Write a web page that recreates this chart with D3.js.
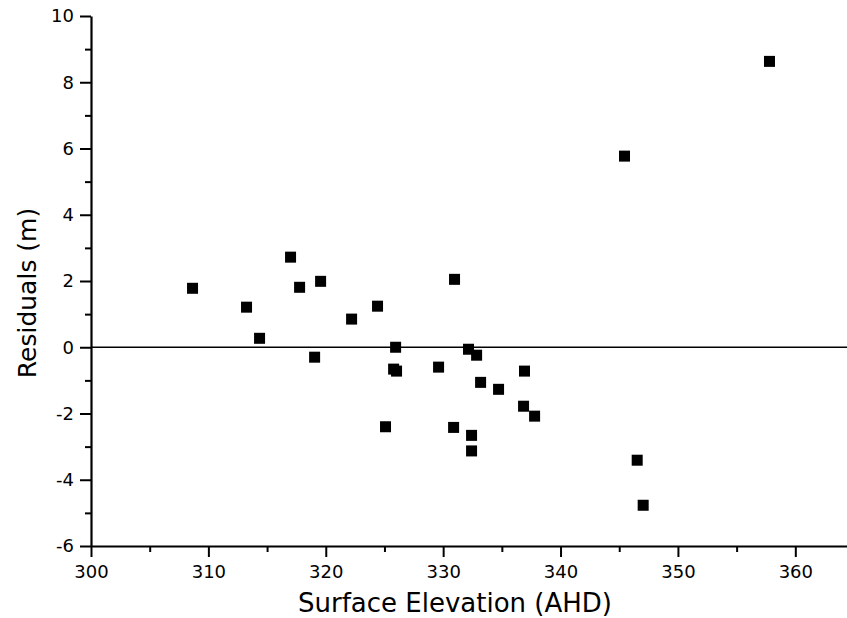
<!DOCTYPE html>
<html>
<head>
<meta charset="utf-8">
<script src="https://cdn.jsdelivr.net/npm/d3@7"></script>
<style>
  body { margin: 0; background: #fff; overflow: hidden; }
  svg { display: block; }
  text { font-family: "Century Gothic", "DejaVu Sans", sans-serif; fill: #000; }
</style>
</head>
<body>
<div id="chart"></div>
<script>
// surface elevation (AHD) of each bore
var elevation = [308.65, 313.25, 314.36, 317.0, 317.77, 319.05, 319.56, 322.2, 324.41, 325.09,
                 325.78, 325.95, 326.03, 329.61, 330.89, 330.97, 332.16, 332.42, 332.42, 332.85,
                 333.19, 334.72, 336.85, 336.93, 337.79, 345.45, 346.53, 347.04, 357.8];
// residuals (m)
var residuals = [1.78, 1.21, 0.27, 2.72, 1.81, -0.30, 1.99, 0.85, 1.24, -2.40,
                 -0.66, 0.0, -0.72, -0.60, -2.42, 2.05, -0.06, -2.66, -3.13, -0.24,
                 -1.06, -1.27, -1.78, -0.72, -2.08, 5.77, -3.41, -4.77, 8.63];

var xTicks = [300, 310, 320, 330, 340, 350, 360];
var xMinor = [305, 315, 325, 335, 345, 355];
var yTicks = [-6, -4, -2, 0, 2, 4, 6, 8, 10];
var yMinor = [-5, -3, -1, 1, 3, 5, 7, 9];

var data = elevation.map(function(d, i){ return {x: d, y: residuals[i]}; });

var margin = {top: 16, right: 0, bottom: 72, left: 91},
    width = 763,
    height = 530;

var svg = d3.select("#chart")
  .append("svg")
    .attr("width", 847)
    .attr("height", 618);

var g = svg.append("g")
    .attr("transform", "translate(" + margin.left + "," + margin.top + ")");

var x = d3.scaleLinear().domain([300, 365]).range([0, width]);
var y = d3.scaleLinear().domain([-6, 10]).range([height, 0]);

// plain hyphen for negatives, like the original
var fmt = function(d){ return String(d); };

// zero line
g.append("line")
    .attr("x1", 0).attr("x2", width)
    .attr("y1", y(0)).attr("y2", y(0))
    .attr("stroke", "#000")
    .attr("stroke-width", 1.6);

// x axis
g.append("g")
    .attr("transform", "translate(0," + height + ")")
    .call(d3.axisBottom(x).tickValues(xTicks).tickFormat(fmt).tickSize(11).tickPadding(8).tickSizeOuter(0));
g.append("g")
    .attr("transform", "translate(0," + height + ")")
    .call(d3.axisBottom(x).tickValues(xMinor).tickSize(6).tickFormat("").tickSizeOuter(0))
    .select(".domain").remove();

// y axis
g.append("g")
    .call(d3.axisLeft(y).tickValues(yTicks).tickFormat(fmt).tickSize(11).tickPadding(6).tickSizeOuter(0));
g.append("g")
    .call(d3.axisLeft(y).tickValues(yMinor).tickSize(6).tickFormat("").tickSizeOuter(0))
    .select(".domain").remove();

g.selectAll(".domain").attr("stroke-width", 2.2);
g.selectAll(".tick line").attr("stroke-width", 2);
g.selectAll(".tick text")
    .style("font-family", "'Century Gothic', 'DejaVu Sans', sans-serif")
    .style("font-size", "18px");

// points
var s = 11;
g.selectAll("rect.pt")
    .data(data)
    .enter()
    .append("rect")
    .attr("class", "pt")
    .attr("x", function(d){ return x(d.x) - s/2; })
    .attr("y", function(d){ return y(d.y) - s/2; })
    .attr("width", s)
    .attr("height", s)
    .style("fill", "#000");

// axis titles
svg.append("text")
    .attr("x", 455)
    .attr("y", 612)
    .attr("text-anchor", "middle")
    .style("font-size", "26px")
    .text("Surface Elevation (AHD)");

svg.append("text")
    .attr("transform", "translate(36,293) rotate(-90)")
    .attr("text-anchor", "middle")
    .style("font-size", "25px")
    .text("Residuals (m)");
</script>
</body>
</html>
